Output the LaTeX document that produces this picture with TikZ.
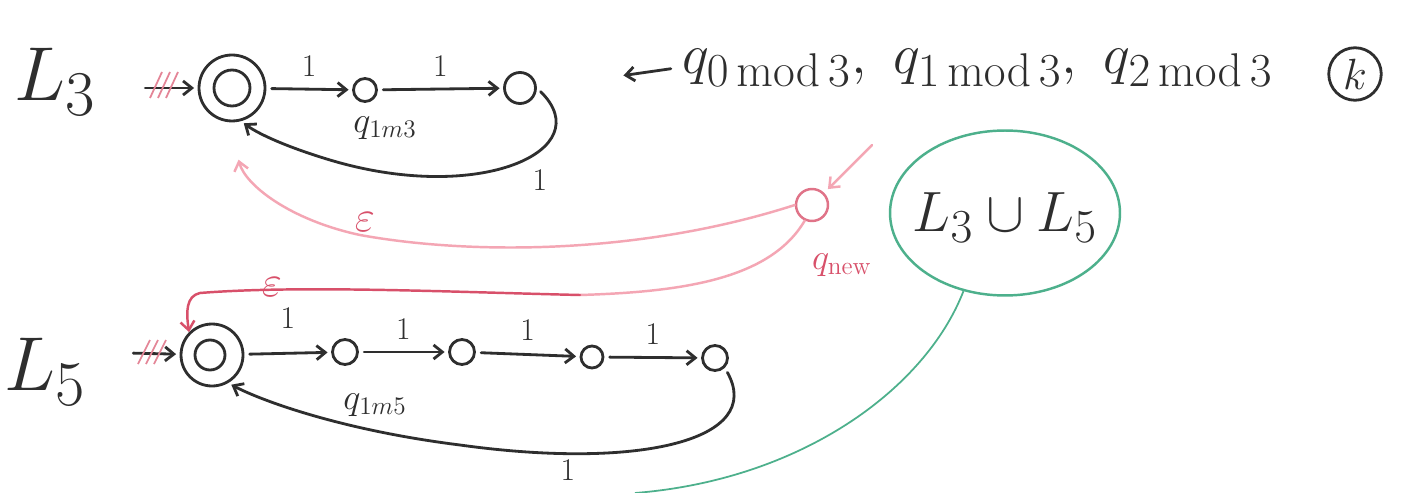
\documentclass[tikz,border=0pt]{standalone}
\usepackage{graphicx}
\usetikzlibrary{arrows.meta,shapes.geometric}
\definecolor{ink}{HTML}{2E2E2E}
\definecolor{redink}{HTML}{D8506A}
\definecolor{pinkink}{HTML}{F4A6B4}
\definecolor{greenink}{HTML}{4DB08C}
\tikzset{
  pen/.style={ink, line width=1.6pt, line cap=round},
  arr/.style={pen, -{Straight Barb[length=5pt,width=8pt]}, shorten >=2pt, shorten <=3pt},
  st/.style={circle, draw=ink, line width=1.6pt, inner sep=0pt},
  lab/.style={ink, font=\fontsize{18}{20}\selectfont},
  big/.style={ink, font=\Huge},
  mid/.style={ink, font=\Huge},
  redarr/.style={redink, line width=1.4pt, line cap=round, -{Straight Barb[length=5pt,width=8pt]}},
  pinkarr/.style={pinkink, line width=1.4pt, line cap=round, -{Straight Barb[length=5pt,width=8pt]}},
  hatch/.style={redink!70, line width=1pt}
}
\begin{document}
\begin{tikzpicture}[x=0.02cm, y=-0.02cm]
\path[use as bounding box, fill=white] (0,0) rectangle (1416,493);

% ---------- L3 ----------
\node[big] (L3) at (55,82) {\scalebox{1.75}{$L_3$}};
\node[st, minimum size=1.32cm] (a0o) at (232,88) {};
\node[st, minimum size=0.72cm] (a0) at (232,88) {};
\node[st, minimum size=0.46cm] (a1) at (365,90) {};
\node[st, minimum size=0.62cm] (a2) at (520,88) {};
\coordinate (s3) at (140,88);
\draw[arr] (s3) -- (a0o);
\draw[hatch] (150,98) -- (162,72) (158,98) -- (170,72) (166,98) -- (178,72);
\draw[arr] (a0o) -- (a1) node[lab, midway, above=3pt] {1};
\draw[arr] (a1) -- (a2) node[lab, midway, above=3pt] {1};
\node[ink, font=\fontsize{20}{22}\selectfont] (a1l) at (385,128) {$q_{1m3}$};
\draw[arr] (a2.east) .. controls (600,150) and (480,205) .. (330,160) .. controls (290,148) and (260,135) .. (a0o.-75);
\node[lab] (a2l) at (540,180) {1};

% ---------- top text ----------
\node[mid, anchor=west] (qs) at (676,68) {\scalebox{1.3}{$q_{0\,\mathrm{mod}\,3},\ q_{1\,\mathrm{mod}\,3},\ q_{2\,\mathrm{mod}\,3}$}};
\coordinate (qsend) at (620,76);
\draw[arr] (qs.west) -- (qsend);
\node[circle, draw=ink, line width=1.6pt, minimum size=1.05cm, inner sep=0pt, ink, font=\Huge] (k) at (1355,74) {$k$};

% ---------- q_new ----------
\node[circle, draw=redink!80, line width=1.4pt, minimum size=0.64cm, inner sep=0pt] (qn) at (812,205) {};
\node[redink, font=\fontsize{20}{22}\selectfont] (qnl) at (842,265) {$q_{\mathrm{new}}$};
\coordinate (qin) at (872,145);
\draw[pinkarr, shorten >=3pt] (qin) -- (qn);

% union circle
\node[ellipse, draw=greenink, line width=1.4pt, minimum width=4.6cm, minimum height=3.3cm, inner sep=0pt] (u) at (1005,213) {};
\node[ink, font=\Huge] (ut) at (1005,218) {\scalebox{1.3}{$L_3\cup L_5$}};
\coordinate (gend) at (635,493);
\draw[greenink, line width=1pt] (u.-118) .. controls (925,390) and (800,480) .. (gend);

% ---------- L5 ----------
\node[big] (L5) at (45,372) {\scalebox{1.75}{$L_5$}};
\node[st, minimum size=1.24cm] (b0o) at (212,355) {};
\node[st, minimum size=0.6cm] (b0) at (210,355) {};
\node[st, minimum size=0.5cm] (b1) at (345,352) {};
\node[st, minimum size=0.5cm] (b2) at (462,352) {};
\node[st, minimum size=0.44cm] (b3) at (592,357) {};
\node[st, minimum size=0.5cm] (b4) at (715,358) {};
\coordinate (s5) at (128,353);
\draw[arr] (s5) -- (b0o);
\draw[hatch] (138,364) -- (150,340) (146,364) -- (158,340) (154,364) -- (166,340);
\draw[arr] (b0o) -- (b1);
\node[lab] at (288,318) {1};
\draw[arr] (b1) -- (b2) node[lab, midway, above=3pt] {1};
\draw[arr] (b2) -- (b3) node[lab, midway, above=4pt] {1};
\draw[arr] (b3) -- (b4) node[lab, midway, above=3pt] {1};
\node[ink, font=\fontsize{20}{22}\selectfont] (b1l) at (375,405) {$q_{1m5}$};
\draw[arr] (b4.south east) .. controls (765,440) and (640,470) .. (460,445) .. controls (340,430) and (260,400) .. (b0o.-60);
\node[lab] (b4l) at (568,470) {1};

% ---------- epsilon transitions ----------
\draw[pinkarr, shorten >=22pt] (qn.west) .. controls (640,255) and (470,255) .. (360,235) .. controls (290,220) and (245,185) .. (a0o.-95);
\node[redink, font=\fontsize{24}{26}\selectfont] (e1) at (365,222) {$\varepsilon$};
\coordinate (ej) at (580,295);
\draw[pinkink, line width=1.4pt, line cap=round] (qn.-115) .. controls (770,280) and (680,292) .. (ej);
\draw[redarr] (ej) .. controls (450,292) and (300,285) .. (200,293) .. controls (186,296) and (186,312) .. (b0o.135);
\node[redink, font=\fontsize{24}{26}\selectfont] (e2) at (272,287) {$\varepsilon$};
\end{tikzpicture}
\end{document}
